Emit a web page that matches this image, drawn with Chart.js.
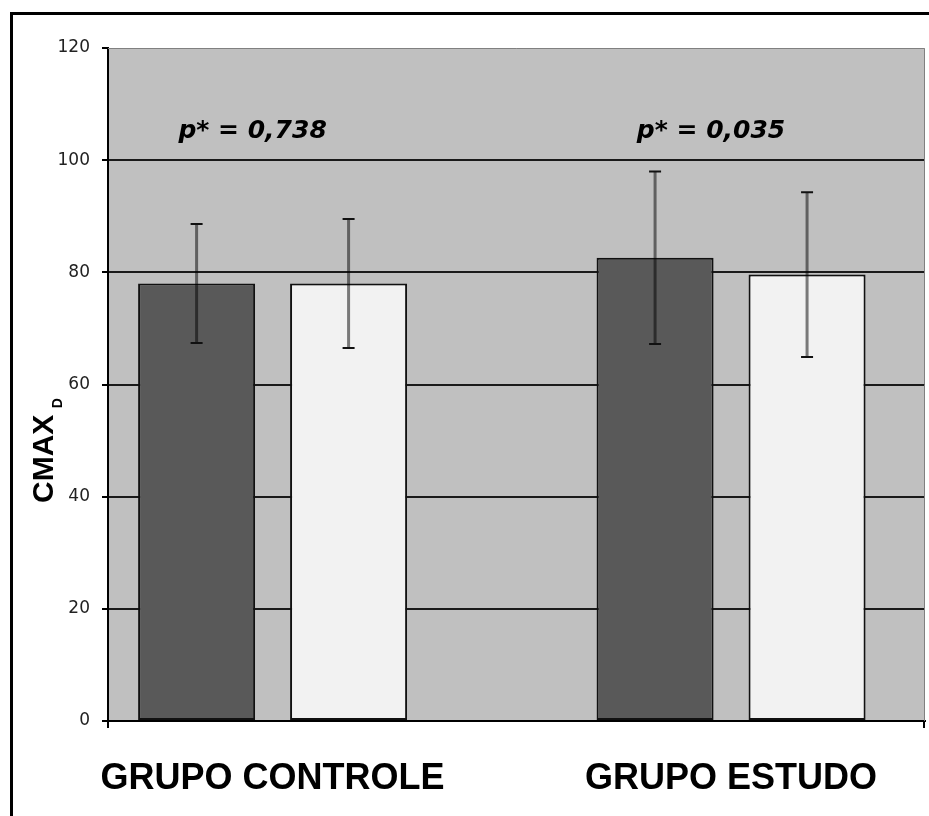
<!DOCTYPE html>
<html>
<head>
<meta charset="utf-8">
<script src="https://cdn.jsdelivr.net/npm/chart.js@4.4.0/dist/chart.umd.min.js"></script>
<style>
  html, body { margin: 0; padding: 0; background: #fff; overflow: hidden; }
  .frame {
    position: absolute; left: 10px; top: 12px; width: 1000px; height: 900px;
    border-left: 3px solid #000; border-top: 3px solid #000;
  }
  #cmaxChart { position: absolute; left: 0; top: 0; }
</style>
</head>
<body>
<div class="frame"></div>
<canvas id="cmaxChart" width="929" height="816"></canvas>
<script>
// values
const groups = ['GRUPO CONTROLE', 'GRUPO ESTUDO'];
const darkMeans = [78.0, 82.6];
const darkSD = [10.6, 15.4];
const lightMeans = [78.0, 79.6];
const lightSD = [11.5, 14.7];
const pLabels = ['p* = 0,738', 'p* = 0,035'];

const DARK = '#595959';
const LIGHT = '#f2f2f2';

// grey plot background + frame edges
const plotFrame = {
  id: 'plotFrame',
  beforeDraw(chart) {
    const a = chart.chartArea;
    const c = chart.ctx;
    c.save();
    c.fillStyle = '#c0c0c0';
    c.fillRect(a.left, a.top, a.right - a.left, a.bottom - a.top);
    c.restore();
  },
  afterDraw(chart) {
    const a = chart.chartArea;
    const c = chart.ctx;
    c.save();
    c.strokeStyle = '#808080';
    c.lineWidth = 1;
    c.beginPath();
    c.moveTo(a.left, a.top + 0.5);
    c.lineTo(a.right - 0.5, a.top + 0.5);
    c.lineTo(a.right - 0.5, a.bottom);
    c.stroke();
    c.strokeStyle = '#000';
    c.lineWidth = 2;
    c.beginPath();
    c.moveTo(a.left, a.bottom);
    c.lineTo(a.left, a.bottom + 7);
    c.moveTo(a.right - 1, a.bottom);
    c.lineTo(a.right - 1, a.bottom + 7);
    c.stroke();

    // y axis title with subscript
    c.translate(53, 503);
    c.rotate(-Math.PI / 2);
    c.fillStyle = '#000';
    c.textAlign = 'left';
    c.textBaseline = 'alphabetic';
    c.font = 'bold 30px "Liberation Sans", Arial, sans-serif';
    c.fillText('CMAX', 0, 0);
    const w = c.measureText('CMAX ').width;
    c.font = 'bold 14px "Liberation Sans", Arial, sans-serif';
    c.fillText('D', w - 2, 9);
    c.restore();
  }
};

// error bars (mean +/- sd) and p-value labels
const errorBars = {
  id: 'errorBars',
  afterDatasetsDraw(chart) {
    const c = chart.ctx;
    const y = chart.scales.y;
    const x = chart.scales.x;
    const sds = [darkSD, lightSD];
    c.save();
    chart.data.datasets.forEach((ds, di) => {
      const meta = chart.getDatasetMeta(di);
      meta.data.forEach((bar, i) => {
        const m = ds.data[i].y;
        const top = y.getPixelForValue(m + sds[di][i]);
        const bot = y.getPixelForValue(m - sds[di][i]);
        c.strokeStyle = 'rgba(0,0,0,0.5)';
        c.lineWidth = 3;
        c.beginPath();
        c.moveTo(bar.x, top);
        c.lineTo(bar.x, bot);
        c.stroke();
        c.strokeStyle = '#111';
        c.lineWidth = 2;
        c.beginPath();
        c.moveTo(bar.x - 6, top);
        c.lineTo(bar.x + 6, top);
        c.moveTo(bar.x - 6, bot);
        c.lineTo(bar.x + 6, bot);
        c.stroke();
      });
    });
    c.fillStyle = '#000';
    c.font = 'italic bold 25px "DejaVu Sans", Verdana, sans-serif';
    c.textAlign = 'center';
    c.textBaseline = 'alphabetic';
    pLabels.forEach((t, i) => {
      c.fillText(t, x.getPixelForValue(i + 1) - 20, y.getPixelForValue(104));
    });
    c.restore();
  }
};

const ctx = document.getElementById('cmaxChart');
const cmaxChart = new Chart(ctx, {
  type: 'bar',
  data: {
    datasets: [{
      data: darkMeans.map((v, i) => ({x: i + 1, y: v})),
      backgroundColor: DARK,
      borderColor: '#111',
      borderWidth: 2,
      borderSkipped: false,
    }, {
      data: lightMeans.map((v, i) => ({x: i + 1, y: v})),
      backgroundColor: LIGHT,
      borderColor: '#111',
      borderWidth: 2,
      borderSkipped: false,
    }]
  },
  options: {
    responsive: false,
    animation: false,
    categoryPercentage: 0.663,
    barPercentage: 0.77,
    layout: {padding: {top: 48, right: 4, left: 0, bottom: 0}},
    plugins: {legend: {display: false}, tooltip: {enabled: false}},
    scales: {
      x: {
        type: 'linear',
        offset: false,
        min: 0.641,
        max: 2.423,
        afterBuildTicks: (axis) => { axis.ticks = groups.map((g, i) => ({value: i + 1})); },
        afterFit: (axis) => { axis.height = 95; },
        grid: {display: false, drawTicks: false, offset: false},
        border: {color: '#000', width: 2},
        ticks: {
          callback: (v) => groups[v - 1],
          color: '#000',
          padding: 36,
          maxRotation: 0,
          font: {family: '"Liberation Sans", Arial, sans-serif', size: 36, weight: 'bold'}
        }
      },
      y: {
        min: 0,
        max: 120,
        afterFit: (axis) => { axis.width = 108; },
        grid: {
          color: (c) => c.tick.value === 120 ? 'rgba(0,0,0,0)' : '#1a1a1a',
          lineWidth: 2,
          tickColor: '#000',
          tickLength: 6
        },
        border: {color: '#000', width: 2},
        ticks: {
          stepSize: 20,
          color: '#222',
          padding: 12,
          font: {family: '"DejaVu Sans", Verdana, sans-serif', size: 17}
        }
      }
    }
  },
  plugins: [plotFrame, errorBars]
});
</script>
</body>
</html>
